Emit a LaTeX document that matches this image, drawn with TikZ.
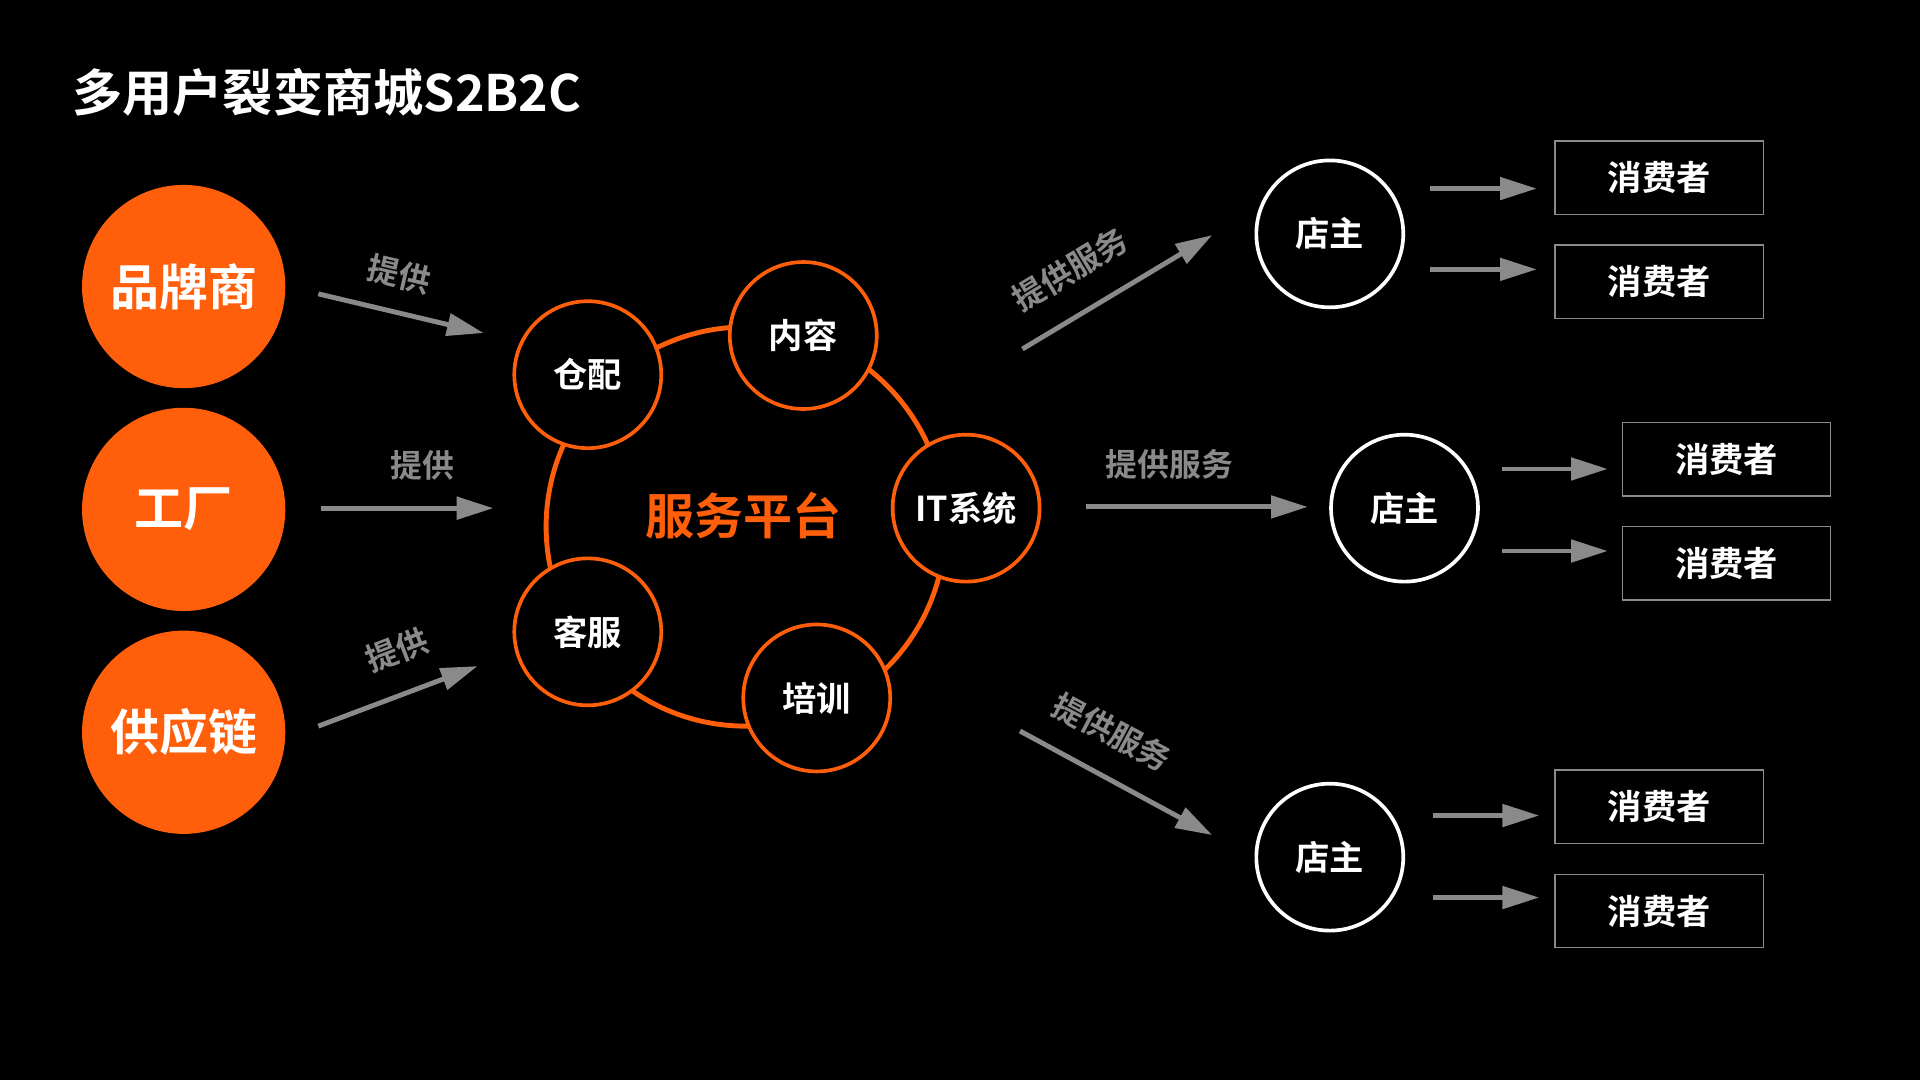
\documentclass[tikz,border=0pt]{standalone}
\usepackage{fontspec}
\setmainfont{Noto Sans CJK SC}
\newfontfamily\cjkb{Noto Sans CJK SC Bold}
\usetikzlibrary{arrows.meta}
\definecolor{org}{HTML}{FF5F0A}
\definecolor{gar}{HTML}{8A8A8A}
\begin{document}
\begin{tikzpicture}[x=0.5pt,y=-0.5pt,
  src/.style={circle,fill=org,minimum size=83pt,inner sep=0,text=white,font=\cjkb\fontsize{20}{20}\selectfont},
  mod/.style={circle,draw=org,line width=1.5pt,fill=black,minimum size=60pt,inner sep=0,text=white,font=\cjkb\fontsize{14}{14}\selectfont},
  shop/.style={circle,draw=white,line width=1.5pt,fill=black,minimum size=60pt,inner sep=0,text=white,font=\cjkb\fontsize{14}{14}\selectfont},
  cons/.style={draw=gar,line width=0.6pt,minimum width=85pt,minimum height=30pt,inner sep=0,text=white,font=\cjkb\fontsize{14}{14}\selectfont},
  garr/.style={draw=gar,line width=2pt,-{Triangle[length=15pt,width=9pt]}},
  lab/.style={text=gar,font=\cjkb\fontsize{13}{13}\selectfont}]
\fill[black] (0,0) rectangle (1568,882);
\useasboundingbox (0,0) rectangle (1568,882);
\node[anchor=west,text=white,font=\cjkb\fontsize{20.5}{20.5}\selectfont] (title) at (52,75) {多用户裂变商城S2B2C};
\node[src] (a) at (150,234) {品牌商};
\node[src] (b) at (150,416) {工厂};
\node[src] (c) at (150,598) {供应链};
\node[circle,draw=org,line width=2pt,minimum size=163pt,inner sep=0] (ring) at (609,430) {};
\node[text=org,font=\cjkb\fontsize{20}{20}\selectfont] (plat) at (607,421) {服务平台};
\node[mod] (m1) at (480,306) {仓配};
\node[mod] (m2) at (656,274) {内容};
\node[mod] (m3) at (789,415) {IT系统};
\node[mod] (m4) at (480,516) {客服};
\node[mod] (m5) at (667,570) {培训};
\coordinate (p1) at (260,240); \coordinate (q1) at (395,272);
\coordinate (p2) at (262,415); \coordinate (q2) at (403,415);
\coordinate (p3) at (260,593); \coordinate (q3) at (390,544);
\draw[garr] (p1) -- (q1);
\draw[garr] (p2) -- (q2);
\draw[garr] (p3) -- (q3);
\node[lab,rotate=-13] (l1) at (326,224) {提供};
\node[lab] (l2) at (345,380) {提供};
\node[lab,rotate=21] (l3) at (324,531) {提供};
\coordinate (r1) at (835,285); \coordinate (s1) at (990,192);
\coordinate (r2) at (887,414); \coordinate (s2) at (1068,414);
\coordinate (r3) at (833,597); \coordinate (s3) at (990,682);
\draw[garr] (r1) -- (s1);
\draw[garr] (r2) -- (s2);
\draw[garr] (r3) -- (s3);
\node[lab,rotate=31] (k1) at (874,220) {提供服务};
\node[lab] (k2) at (955,379) {提供服务};
\node[lab,rotate=-28] (k3) at (908,598) {提供服务};
\node[shop] (d1) at (1086,191) {店主};
\node[shop] (d2) at (1147,415) {店主};
\node[shop] (d3) at (1086,700) {店主};
\node[cons] (c1) at (1355,145) {消费者};
\node[cons] (c2) at (1355,230) {消费者};
\node[cons] (c3) at (1410,375) {消费者};
\node[cons] (c4) at (1410,460) {消费者};
\node[cons] (c5) at (1355,659) {消费者};
\node[cons] (c6) at (1355,744) {消费者};
\foreach \y/\xa/\xb in {154/1168/1255,220/1168/1255,383/1227/1313,450/1227/1313,666/1170/1257,733/1170/1257}{
  \coordinate (u) at (\xa,\y); \coordinate (v) at (\xb,\y);
  \draw[garr] (u) -- (v);}
\end{tikzpicture}
\end{document}
